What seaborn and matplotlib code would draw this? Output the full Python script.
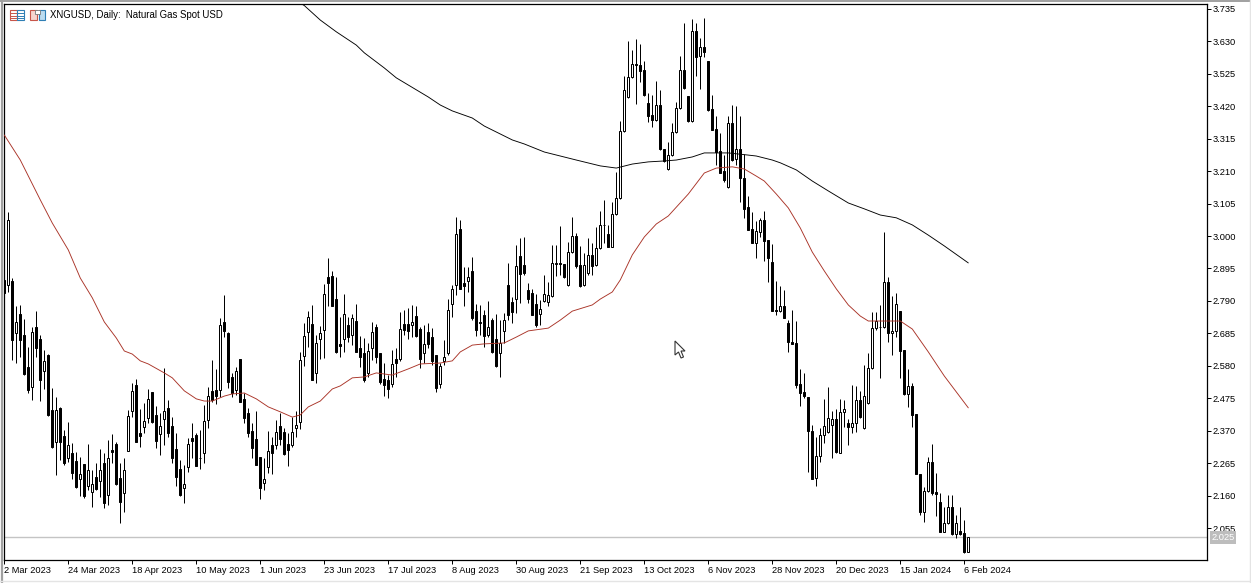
import numpy as np
import pandas as pd
import matplotlib
matplotlib.use("Agg")
import matplotlib.pyplot as plt
from matplotlib.patches import Polygon, Rectangle
import seaborn as sns

# daily candles, XNGUSD
opens = [2.858,2.840,2.855,2.685,2.747,2.680,2.575,2.510,2.706,2.666,2.564,2.615,2.437,2.335,2.444,2.353,2.281,2.297,2.271,2.215,
 2.261,2.192,2.173,2.219,2.208,2.264,2.162,2.308,2.326,2.216,2.167,2.305,2.433,2.518,2.362,2.383,2.410,2.494,2.421,2.358,
 2.407,2.443,2.385,2.311,2.245,2.184,2.252,2.345,2.356,2.282,2.297,2.404,2.498,2.501,2.503,2.721,2.685,2.543,2.502,2.601,
 2.472,2.426,2.368,2.343,2.285,2.202,2.252,2.323,2.325,2.385,2.365,2.326,2.325,2.380,2.399,2.611,2.691,2.714,2.556,2.666,
 2.696,2.866,2.871,2.796,2.649,2.666,2.712,2.679,2.724,2.637,2.620,2.556,2.639,2.706,2.622,2.536,2.534,2.520,2.601,2.601,
 2.714,2.714,2.711,2.740,2.698,2.620,2.688,2.672,2.614,2.521,2.595,2.620,2.779,2.841,3.022,2.847,2.856,2.886,2.756,2.721,
 2.744,2.680,2.728,2.666,2.623,2.694,2.841,2.786,2.795,2.934,2.906,2.824,2.815,2.779,2.747,2.791,2.788,2.805,2.911,2.912,
 2.909,2.841,2.947,3.000,2.905,2.841,2.880,2.938,2.905,2.960,3.037,3.007,2.964,3.071,3.122,3.339,3.449,3.514,3.556,3.554,
 3.537,3.431,3.391,3.375,3.423,3.281,3.216,3.261,3.336,3.414,3.537,3.453,3.371,3.663,3.582,3.611,3.566,3.410,3.345,3.274,
 3.211,3.158,3.365,3.248,3.281,3.187,3.093,3.022,2.979,3.014,3.052,2.987,2.915,2.761,2.759,2.774,2.719,2.656,2.654,2.521,
 2.494,2.478,2.368,2.216,2.287,2.355,2.365,2.387,2.407,2.299,2.429,2.394,2.381,2.394,2.468,2.378,2.459,2.572,2.701,2.706,
 2.705,2.850,2.687,2.694,2.757,2.630,2.490,2.514,2.423,2.229,2.107,2.174,2.268,2.172,2.138,2.043,2.070,2.122,2.035,2.046,
 2.038,1.978]
highs = [2.858,3.077,2.863,2.772,2.776,2.731,2.640,2.707,2.756,2.680,2.631,2.617,2.507,2.478,2.446,2.372,2.397,2.329,2.302,2.286,
 2.261,2.327,2.243,2.264,2.310,2.297,2.340,2.358,2.335,2.264,2.281,2.437,2.523,2.536,2.439,2.459,2.504,2.494,2.450,2.426,
 2.572,2.469,2.415,2.362,2.275,2.259,2.345,2.396,2.362,2.372,2.453,2.513,2.599,2.569,2.735,2.808,2.691,2.556,2.577,2.603,
 2.491,2.443,2.396,2.433,2.285,2.281,2.368,2.349,2.405,2.426,2.378,2.362,2.415,2.435,2.624,2.718,2.759,2.776,2.680,2.709,
 2.845,2.928,2.888,2.869,2.739,2.811,2.739,2.748,2.780,2.677,2.669,2.653,2.722,2.715,2.622,2.588,2.550,2.631,2.637,2.754,
 2.761,2.766,2.778,2.774,2.707,2.711,2.720,2.701,2.614,2.588,2.664,2.795,2.842,3.061,3.052,2.901,2.901,2.933,2.780,2.776,
 2.761,2.789,2.734,2.748,2.728,2.750,2.912,2.804,2.971,2.993,2.996,2.849,2.828,2.811,2.793,2.874,2.852,2.971,2.971,3.033,
 2.909,2.982,3.061,3.009,2.968,2.944,2.993,2.977,3.028,3.081,3.117,3.036,3.111,3.206,3.373,3.518,3.630,3.602,3.637,3.621,
 3.567,3.464,3.456,3.501,3.473,3.281,3.305,3.365,3.435,3.583,3.689,3.453,3.702,3.689,3.640,3.705,3.567,3.456,3.387,3.333,
 3.262,3.387,3.423,3.421,3.389,3.266,3.130,3.079,3.050,3.057,3.081,2.987,2.974,2.855,2.838,2.825,2.728,2.761,2.725,2.570,
 2.556,2.478,2.388,2.351,2.378,2.473,2.510,2.434,2.439,2.473,2.469,2.407,2.519,2.514,2.499,2.583,2.620,2.753,2.753,2.777,
 3.012,2.866,2.806,2.815,2.757,2.630,2.570,2.523,2.423,2.229,2.189,2.284,2.327,2.232,2.167,2.124,2.162,2.162,2.097,2.124,
 2.081,2.025]
lows = [2.817,2.820,2.599,2.588,2.610,2.550,2.493,2.469,2.610,2.466,2.506,2.416,2.313,2.227,2.275,2.259,2.270,2.213,2.184,2.160,
 2.151,2.178,2.122,2.178,2.157,2.119,2.130,2.264,2.194,2.070,2.108,2.305,2.415,2.335,2.318,2.364,2.394,2.396,2.313,2.291,
 2.324,2.351,2.264,2.192,2.159,2.135,2.237,2.281,2.256,2.245,2.267,2.379,2.464,2.455,2.480,2.674,2.507,2.480,2.486,2.462,
 2.396,2.351,2.281,2.259,2.148,2.178,2.234,2.230,2.310,2.324,2.291,2.257,2.318,2.349,2.377,2.581,2.642,2.534,2.523,2.601,
 2.604,2.772,2.772,2.623,2.610,2.626,2.658,2.647,2.624,2.577,2.529,2.545,2.599,2.590,2.521,2.483,2.475,2.513,2.545,2.594,
 2.680,2.666,2.674,2.674,2.572,2.588,2.637,2.583,2.496,2.507,2.583,2.615,2.737,2.809,2.830,2.774,2.820,2.728,2.677,2.680,
 2.642,2.674,2.623,2.575,2.543,2.655,2.728,2.720,2.752,2.782,2.874,2.782,2.745,2.707,2.712,2.788,2.772,2.804,2.871,2.874,
 2.863,2.838,2.944,2.896,2.834,2.838,2.874,2.874,2.903,2.957,2.977,2.964,2.964,3.069,3.121,3.337,3.448,3.511,3.427,3.500,
 3.453,3.370,3.352,3.373,3.279,3.241,3.214,3.260,3.333,3.411,3.477,3.370,3.370,3.519,3.477,3.581,3.405,3.343,3.230,3.203,
 3.176,3.157,3.244,3.230,3.111,3.057,3.020,2.977,2.928,2.998,2.920,2.852,2.756,2.745,2.755,2.734,2.626,2.651,2.507,2.451,
 2.477,2.235,2.215,2.192,2.270,2.329,2.361,2.283,2.299,2.297,2.383,2.324,2.361,2.367,2.410,2.377,2.456,2.570,2.696,2.539,
 2.702,2.658,2.616,2.674,2.542,2.486,2.448,2.381,2.230,2.097,2.076,2.173,2.162,2.094,2.042,2.042,2.068,2.032,2.022,2.032,
 1.975,1.978]
closes = [2.817,3.052,2.662,2.721,2.662,2.554,2.502,2.688,2.639,2.534,2.595,2.421,2.318,2.437,2.335,2.264,2.323,2.234,2.189,2.229,
 2.159,2.243,2.196,2.180,2.242,2.137,2.281,2.302,2.198,2.140,2.242,2.417,2.498,2.335,2.354,2.400,2.472,2.397,2.338,2.384,
 2.433,2.364,2.283,2.219,2.162,2.199,2.326,2.338,2.257,2.281,2.400,2.483,2.469,2.483,2.711,2.694,2.527,2.493,2.562,2.463,
 2.412,2.362,2.315,2.259,2.186,2.213,2.303,2.299,2.365,2.344,2.293,2.306,2.365,2.387,2.598,2.676,2.737,2.535,2.653,2.685,
 2.811,2.849,2.775,2.626,2.645,2.747,2.674,2.734,2.626,2.610,2.534,2.627,2.688,2.610,2.526,2.518,2.506,2.585,2.590,2.698,
 2.696,2.694,2.721,2.678,2.601,2.652,2.652,2.595,2.509,2.578,2.608,2.760,2.828,3.006,2.830,2.838,2.867,2.734,2.696,2.717,
 2.677,2.705,2.626,2.580,2.655,2.727,2.745,2.755,2.902,2.876,2.879,2.796,2.746,2.711,2.763,2.811,2.808,2.912,2.912,2.911,
 2.867,2.947,2.999,2.903,2.838,2.905,2.938,2.904,2.960,3.035,3.035,2.964,3.071,3.122,3.339,3.472,3.514,3.556,3.552,3.535,
 3.455,3.390,3.374,3.423,3.281,3.243,3.261,3.336,3.414,3.537,3.479,3.371,3.663,3.581,3.611,3.597,3.408,3.344,3.272,3.205,
 3.182,3.365,3.246,3.281,3.187,3.088,3.020,2.977,3.015,3.052,2.985,2.929,2.759,2.759,2.774,2.736,2.656,2.651,2.519,2.493,
 2.483,2.368,2.215,2.287,2.355,2.384,2.410,2.407,2.300,2.429,2.439,2.381,2.394,2.468,2.415,2.481,2.572,2.701,2.725,2.704,
 2.850,2.687,2.694,2.779,2.629,2.490,2.514,2.422,2.231,2.107,2.174,2.268,2.169,2.165,2.043,2.070,2.122,2.035,2.070,2.035,
 1.978,2.025]

# moving averages, sampled along the curves (bar number, price)
ma_red_bar = [0,4,9,12,16,19,22,25,28,30,32,34,36,40,42,45,48,50,52,55,57,60,63,66,69,72,74,76,79,82,84,87,90,93,97,101,104,109,112,114,
 117,120,125,128,131,136,139,142,147,149,152,154,157,160,163,166,171,175,178,182,185,188,190,193,196,199,202,205,208,211,214,216,224,227,231,235,241]
ma_red = [3.327,3.246,3.117,3.042,2.955,2.864,2.800,2.722,2.670,2.628,2.618,2.596,2.586,2.557,2.541,2.499,2.473,2.466,2.466,2.482,2.489,2.492,2.473,2.447,2.431,2.414,2.421,2.447,2.466,2.505,2.515,2.541,2.544,2.557,2.550,2.570,2.586,2.589,2.596,2.625,
 2.647,2.651,2.654,2.673,2.693,2.702,2.728,2.757,2.777,2.796,2.819,2.858,2.939,2.997,3.039,3.065,3.136,3.204,3.220,3.224,3.217,3.194,3.178,3.136,3.091,3.026,2.948,2.887,2.829,2.777,2.741,2.725,2.725,2.699,2.625,2.547,2.444]
ma_black_bar = [74,75,79,83,88,90,95,98,106,109,112,117,120,127,130,135,139,143,149,153,157,161,165,168,172,175,181,186,188,192,194,198,202,206,211,215,219,223,227,231,235,241]
ma_black = [3.754,3.746,3.699,3.661,3.618,3.593,3.544,3.512,3.450,3.424,3.405,3.382,3.356,3.311,3.298,3.272,3.259,3.246,3.227,3.220,3.233,3.240,3.243,3.246,3.256,3.269,3.269,3.262,3.259,3.246,3.237,3.214,3.178,3.146,3.107,3.088,3.068,3.059,3.036,3.003,2.968,2.913]

y_ticks = [3.735,3.630,3.525,3.420,3.315,3.210,3.105,3.000,2.895,2.790,2.685,2.580,2.475,2.370,2.265,2.160,2.055]
date_labels = ["2 Mar 2023","24 Mar 2023","18 Apr 2023","10 May 2023","1 Jun 2023","23 Jun 2023","17 Jul 2023","8 Aug 2023",
 "30 Aug 2023","21 Sep 2023","13 Oct 2023","6 Nov 2023","28 Nov 2023","20 Dec 2023","15 Jan 2024","6 Feb 2024"]
last_price = 2.025

W, H = 1251, 583
sns.set_style("white")
plt.rcParams["font.family"] = ["Liberation Sans", "DejaVu Sans"]

def px(x, y):
    return x / W, 1 - y / H

fig = plt.figure(figsize=(W / 100, H / 100), dpi=100)
ax = fig.add_axes([4 / W, 1 - 560 / H, (1206.5 - 4) / W, (560 - 4) / H])

df = pd.DataFrame({"bar": np.arange(len(opens)), "o": opens, "h": highs, "l": lows, "c": closes})
up = df[df.c >= df.o]
down = df[df.c < df.o]

ax.axhline(last_price, color="#c4c4c4", lw=1, zorder=1)
ax.vlines(df.bar, df.l, df.h, color="black", lw=0.72, zorder=2)
ax.bar(up.bar, up.c - up.o, bottom=up.o, width=0.5, facecolor="white", edgecolor="black", lw=0.72, zorder=3)
ax.bar(down.bar, down.o - down.c, bottom=down.c, width=0.5, facecolor="black", edgecolor="black", lw=0.72, zorder=3)

sns.lineplot(x=ma_red_bar, y=ma_red, color="#a93226", lw=0.65, ax=ax, zorder=4)
sns.lineplot(x=ma_black_bar, y=ma_black, color="black", lw=0.65, ax=ax, zorder=4)

ax.set_xlim(-0.075, 300.55)
ax.set_ylim(1.9515, 3.751)
ax.yaxis.tick_right()
ax.set_yticks(y_ticks, [f"{v:.3f}" for v in y_ticks])
ax.set_xticks(np.arange(len(date_labels)) * 16, date_labels, ha="left")
ax.tick_params(axis="both", direction="out", length=3, width=0.72, labelsize=6.7, color="black",
               bottom=True, right=True, labelcolor="black")
ax.tick_params(axis="y", pad=1.5)
ax.tick_params(axis="x", pad=1)
for s in ax.spines.values():
    s.set_color("black")
    s.set_linewidth(0.9)
    s.set_visible(True)

# current price flag on the scale
ax.annotate(f"{last_price:.3f}", xy=(1, last_price), xycoords=("axes fraction", "data"), xytext=(3.5, 0),
            textcoords="offset points", va="center", ha="left", fontsize=6.7, color="white",
            bbox=dict(boxstyle="square,pad=0.2", fc="#bdbdbd", ec="none"), annotation_clip=False)

fig.text(*px(50, 15), "XNGUSD, Daily:  Natural Gas Spot USD", fontsize=6.9, va="center", ha="left", color="black")

# toolbar icons and mouse pointer
red, blue = "#c8564a", "#2f7fb5"
for x0, x1, c in [(10, 16.5, red), (17, 23.5, blue)]:
    fig.add_artist(Rectangle(px(x0, 20), (x1 - x0) / W, 10 / H, transform=fig.transFigure, fc="white", ec=c, lw=0.8))
    for yy in (13, 15.5, 18):
        fig.add_artist(plt.Line2D([px(x0, 0)[0], px(x1, 0)[0]], [px(0, yy)[1]] * 2, color=c, lw=0.7))
fig.add_artist(Rectangle(px(30, 20), 7 / W, 10 / H, transform=fig.transFigure, fc="#f6d5cf", ec=red, lw=0.8))
fig.add_artist(Rectangle(px(38.5, 20), 6 / W, 10 / H, transform=fig.transFigure, fc="#bcdcf0", ec=blue, lw=0.8))
fig.add_artist(Rectangle(px(35, 13.5), 5 / W, 3.5 / H, transform=fig.transFigure, fc="white", ec="#777777", lw=0.6))
arrow = [(675, 341), (675, 355), (678.5, 352), (681, 358), (683.5, 357), (681, 351), (685, 351)]
fig.add_artist(Polygon([px(*p) for p in arrow], closed=True, transform=fig.transFigure, fc="white", ec="#333333", lw=0.8))

# window edge of the screenshot
fig.add_artist(plt.Line2D([px(1.5, 0)[0]] * 2, [0, 1], color="#a0a0a0", lw=1.6))
fig.add_artist(plt.Line2D([0, 1], [px(0, 1)[1]] * 2, color="#a0a0a0", lw=1.4))
fig.add_artist(plt.Line2D([0, 1], [px(0, 581)[1]] * 2, color="#e4e4e4", lw=1))
fig.add_artist(plt.Line2D([px(1250, 0)[0]] * 2, [0, 1], color="#e4e4e4", lw=1))

fig.savefig("out.png", dpi=100)
